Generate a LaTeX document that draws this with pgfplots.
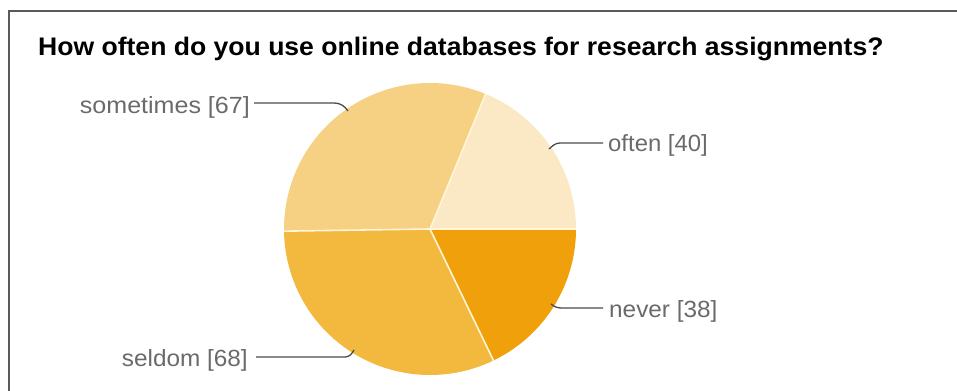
\documentclass[border=0pt]{standalone}
\usepackage{pgfplots}
\pgfplotsset{compat=1.18}
\usepackage{fontspec}
\setmainfont{Liberation Sans}
\definecolor{cOften}{HTML}{FBE8C4}
\definecolor{cSome}{HTML}{F6D083}
\definecolor{cSeldom}{HTML}{F3B83E}
\definecolor{cNever}{HTML}{F0A00A}
\definecolor{cBorder}{HTML}{FFF6D8}
\definecolor{cText}{HTML}{6A6A6A}
\definecolor{cLine}{HTML}{4A4A4A}
\definecolor{cFrame}{HTML}{5A5A5A}
% data
\def\vOften{40}
\def\vSome{67}
\def\vSeldom{68}
\def\vNever{38}
\pgfmathsetmacro{\tot}{\vOften+\vSome+\vSeldom+\vNever}
\pgfmathsetmacro{\aA}{0}
\pgfmathsetmacro{\aB}{\aA+360/\tot*\vOften}
\pgfmathsetmacro{\aC}{\aB+360/\tot*\vSome}
\pgfmathsetmacro{\aD}{\aC+360/\tot*\vSeldom}
\pgfmathsetmacro{\aE}{360}
\def\cx{430}
\def\cy{229}
\def\rr{146}
\begin{document}
\begin{tikzpicture}
\begin{axis}[
  width=957bp, height=391bp, scale only axis,
  xmin=0, xmax=957, ymin=0, ymax=391, y dir=reverse,
  axis lines=none, ticks=none, clip=false,
]
\coordinate (BL) at (axis cs:0,391);
\coordinate (TR) at (axis cs:957,0);
% frame (top and left only)
\draw[cFrame, line width=2pt] (axis cs:9,391) -- (axis cs:9,11) -- (axis cs:957,11);
% title
\node[anchor=base west, inner sep=0pt, font=\bfseries\fontsize{25.5}{30}\selectfont]
  at (axis cs:38,55) {\scalebox{1.045}[1]{How often do you use online databases for research assignments?}};
% slices
\addplot[fill=cOften, draw=none, domain=\aA:\aB, samples=60, variable=\t]
  ({\cx+\rr*cos(t)}, {\cy-\rr*sin(t)}) -- (axis cs:\cx,\cy) -- cycle;
\addplot[fill=cSome, draw=none, domain=\aB:\aC, samples=80, variable=\t]
  ({\cx+\rr*cos(t)}, {\cy-\rr*sin(t)}) -- (axis cs:\cx,\cy) -- cycle;
\addplot[fill=cSeldom, draw=none, domain=\aC:\aD, samples=80, variable=\t]
  ({\cx+\rr*cos(t)}, {\cy-\rr*sin(t)}) -- (axis cs:\cx,\cy) -- cycle;
\addplot[fill=cNever, draw=none, domain=\aD:\aE, samples=60, variable=\t]
  ({\cx+\rr*cos(t)}, {\cy-\rr*sin(t)}) -- (axis cs:\cx,\cy) -- cycle;
% slice separators
\foreach \ang in {\aA,\aB,\aC,\aD}{
  \addplot[cBorder, line width=1.6pt, domain=0:\rr, samples=2, variable=\t]
    ({\cx+\t*cos(\ang)}, {\cy-\t*sin(\ang)});
}
% leader lines
\draw[cLine, line width=1.3pt] (axis cs:254,103) -- (axis cs:334,103) to[out=0,in=125] (axis cs:348,111);
\draw[cLine, line width=1.3pt] (axis cs:603,143) -- (axis cs:560,143) to[out=180,in=40] (axis cs:549,149);
\draw[cLine, line width=1.3pt] (axis cs:603,308) -- (axis cs:562,308) to[out=180,in=-40] (axis cs:551,304);
\draw[cLine, line width=1.3pt] (axis cs:256,357) -- (axis cs:345,357) to[out=0,in=-120] (axis cs:354,350);
% labels
\begin{scope}[every node/.style={inner sep=0pt, text=cText, font=\fontsize{23.5}{26}\selectfont}]
\node[anchor=east] at (axis cs:250,107) {\scalebox{1.07}[1]{sometimes [67]}};
\node[anchor=west] at (axis cs:608,145) {\scalebox{1.02}[1]{often [40]}};
\node[anchor=west] at (axis cs:609,311) {\scalebox{1.04}[1]{never [38]}};
\node[anchor=east] at (axis cs:248,360) {\scalebox{1.04}[1]{seldom [68]}};
\end{scope}
\end{axis}
\pgfresetboundingbox
\path[use as bounding box] (BL) rectangle (TR);
\end{tikzpicture}
\end{document}
